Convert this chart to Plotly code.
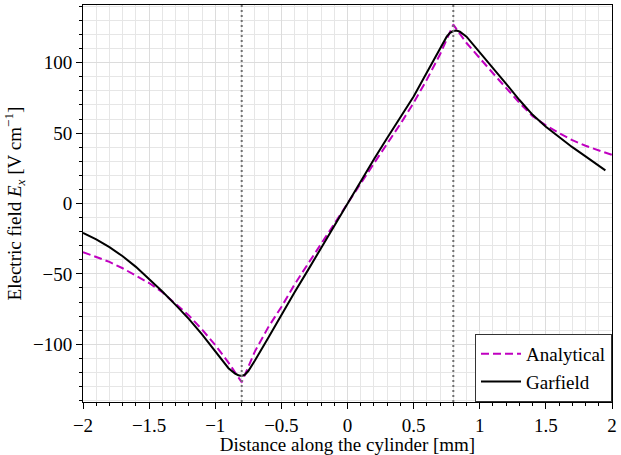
import plotly.graph_objects as go

# Analytical field along the cylinder axis
x_analytical = [-2.0, -1.9, -1.8, -1.7, -1.6, -1.5, -1.4, -1.3, -1.2, -1.1, -1.0, -0.9, -0.8,
                -0.7, -0.6, -0.5, -0.4, -0.3, -0.2, -0.1, 0.0, 0.1, 0.2, 0.3, 0.4, 0.5, 0.6,
                0.7, 0.8, 0.9, 1.0, 1.1, 1.2, 1.3, 1.4, 1.5, 1.6, 1.7, 1.8, 1.9, 2.0]
e_analytical = [-34.5, -38.0, -41.5, -46.0, -51.0, -56.5, -63.0, -71.0, -79.5, -89.5, -100.5, -113.0, -127.0,
                -105.0, -88.0, -73.5, -57.5, -43.0, -29.0, -14.5, 0.0, 14.5, 28.5, 42.5, 56.5, 71.5, 88.0,
                106.0, 127.0, 114.0, 103.0, 92.5, 82.0, 71.5, 62.0, 55.5, 50.0, 45.0, 41.0, 37.5, 34.5]

# Garfield simulation
x_garfield = [-2.0, -1.9, -1.8, -1.7, -1.6, -1.5, -1.4, -1.3, -1.2, -1.1, -1.0, -0.9, -0.85,
              -0.825, -0.8, -0.775, -0.75, -0.7, -0.6, -0.5, -0.4, -0.3, -0.2, -0.1, 0.0,
              0.1, 0.2, 0.3, 0.4, 0.5, 0.6, 0.7, 0.75, 0.775, 0.8, 0.825, 0.85, 0.9,
              1.0, 1.1, 1.2, 1.3, 1.4, 1.5, 1.6, 1.7, 1.8, 1.9, 1.95]
e_garfield = [-20.8, -25.5, -31.0, -37.5, -45.0, -53.5, -62.5, -72.0, -82.0, -93.0, -105.0, -117.0, -120.8,
              -122.0, -122.5, -121.5, -119.0, -111.5, -95.5, -79.0, -63.0, -47.5, -31.5, -16.0, 0.0,
              16.0, 31.5, 46.5, 61.0, 76.0, 93.0, 110.5, 118.5, 121.2, 122.5, 122.8, 122.0, 118.5,
              107.5, 96.5, 85.0, 73.5, 63.0, 54.5, 47.0, 40.0, 33.5, 27.0, 23.5]

# Cylinder boundaries
boundaries = [-0.8, 0.8]

x_ticks = [-2, -1.5, -1, -0.5, 0, 0.5, 1, 1.5, 2]
x_tick_text = ["−2", "−1.5", "−1", "−0.5", "0", "0.5", "1", "1.5", "2"]
y_ticks = [-100, -50, 0, 50, 100]
y_tick_text = ["−100", "−50", "0", "50", "100"]

FONT = "Liberation Serif, Times New Roman, serif"
SIZE = 19

fig = go.Figure()

fig.add_trace(go.Scatter(
    x=x_analytical, y=e_analytical, mode="lines", name="Analytical",
    line=dict(color="#c000c0", width=2, dash="8px,4px"),
))
fig.add_trace(go.Scatter(
    x=x_garfield, y=e_garfield, mode="lines", name="Garfield",
    line=dict(color="black", width=2),
))

for b in boundaries:
    fig.add_vline(x=b, line=dict(color="#707070", width=2, dash="2px,3px"), layer="above")

axis_common = dict(
    showline=True, linecolor="black", linewidth=1, mirror=True,
    ticks="outside", ticklen=6, tickwidth=1, tickcolor="black",
    showgrid=True, gridcolor="#dcdcdc", gridwidth=1,
    zeroline=False,
    tickfont=dict(family=FONT, size=SIZE, color="black"),
)

fig.update_xaxes(
    range=[-2, 2], tickvals=x_ticks, ticktext=x_tick_text,
    minor=dict(dtick=0.1, ticks="outside", ticklen=3, tickcolor="black",
               showgrid=True, gridcolor="#e6e6e6", gridwidth=1),
    title=dict(text="Distance along the cylinder [mm]", font=dict(family=FONT, size=SIZE, color="black"),
               standoff=2),
    **axis_common,
)
fig.update_yaxes(
    range=[-141, 141], tickvals=y_ticks, ticktext=y_tick_text,
    minor=dict(dtick=10, ticks="outside", ticklen=3, tickcolor="black",
               showgrid=True, gridcolor="#e6e6e6", gridwidth=1),
    title=dict(text="Electric field <i>E<sub>x</sub></i> [V cm<sup>−1</sup>]",
               font=dict(family=FONT, size=SIZE, color="black"), standoff=6),
    **axis_common,
)

fig.update_layout(
    width=621, height=455,
    margin=dict(l=83, r=5, t=4, b=50),
    paper_bgcolor="white", plot_bgcolor="white",
    font=dict(family=FONT, size=SIZE, color="black"),
    legend=dict(
        x=1, y=0, xanchor="right", yanchor="bottom",
        bgcolor="white", bordercolor="#333333", borderwidth=1,
        font=dict(family=FONT, size=SIZE, color="black"),
        itemwidth=40, tracegroupgap=2,
    ),
)

fig.write_html("out.html")
